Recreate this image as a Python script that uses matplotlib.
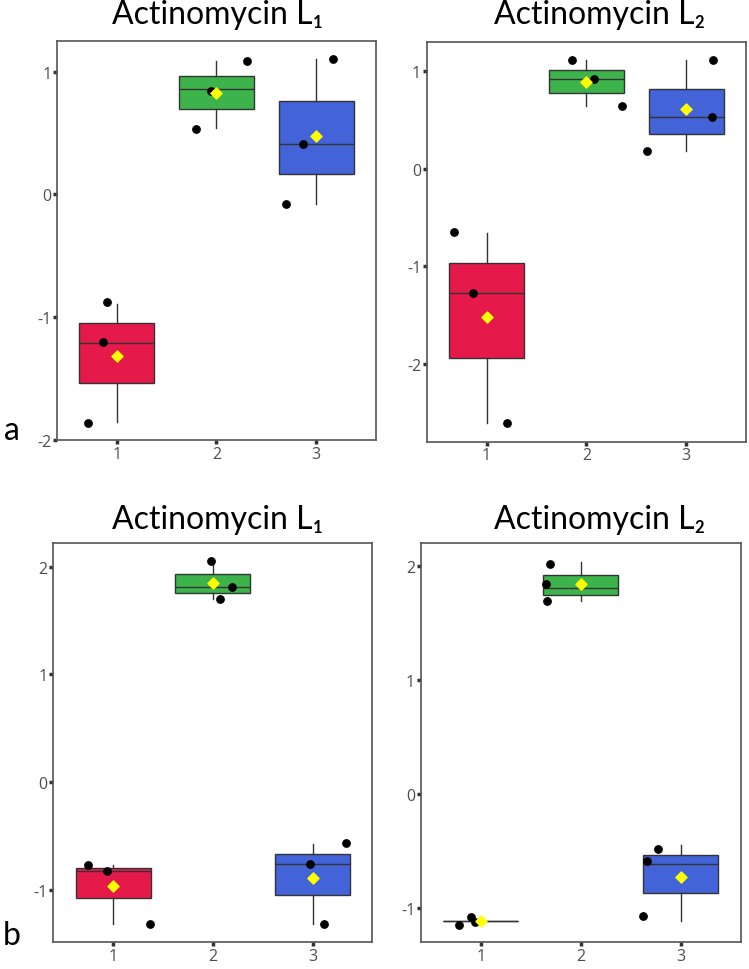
import numpy as np
import matplotlib.pyplot as plt

# colours of the three groups
box_colors = ['#E6194B', '#3CB44B', '#4363D8']
positions = [1, 2, 3]

# panel data: box stats per group (whisker low, q1, median, q3, whisker high), mean, points
titles = ['Actinomycin L\u2081', 'Actinomycin L\u2082', 'Actinomycin L\u2081', 'Actinomycin L\u2082']

a1_stats = [[-1.855, -1.535, -1.21, -1.044, -0.89],
            [0.54, 0.695, 0.855, 0.967, 1.084],
            [-0.077, 0.166, 0.411, 0.76, 1.106]]
a1_means = [-1.32, 0.823, 0.479]
a1_px = [0.71, 0.86, 0.90, 1.79, 1.94, 2.31, 2.70, 2.87, 3.17]
a1_py = [-1.86, -1.205, -0.88, 0.53, 0.845, 1.085, -0.077, 0.409, 1.106]

a2_stats = [[-2.61, -1.944, -1.274, -0.966, -0.662],
            [0.647, 0.78, 0.918, 1.013, 1.113],
            [0.186, 0.357, 0.531, 0.822, 1.113]]
a2_means = [-1.517, 0.893, 0.61]
a2_px = [0.677, 0.867, 1.207, 1.857, 2.08, 2.357, 2.603, 3.26, 3.273]
a2_py = [-0.651, -1.274, -2.61, 1.116, 0.918, 0.647, 0.186, 0.531, 1.116]

b1_stats = [[-1.321, -1.077, -0.829, -0.795, -0.771],
            [1.703, 1.755, 1.811, 1.929, 2.052],
            [-1.321, -1.046, -0.764, -0.668, -0.572]]
b1_means = [-0.971, 1.851, -0.888]
b1_px = [0.75, 0.943, 1.367, 1.98, 2.074, 2.194, 2.97, 3.112, 3.333]
b1_py = [-0.767, -0.832, -1.324, 2.052, 1.70, 1.811, -0.764, -1.324, -0.569]

b2_stats = [[-1.117, -1.117, -1.117, -1.117, -1.117],
            [1.693, 1.746, 1.81, 1.921, 2.038],
            [-1.114, -0.869, -0.617, -0.53, -0.448]]
b2_means = [-1.117, 1.846, -0.728]
b2_px = [0.78, 0.904, 0.947, 1.657, 1.667, 1.697, 2.62, 2.664, 2.77]
b2_py = [-1.146, -1.079, -1.125, 1.842, 1.697, 2.021, -1.073, -0.588, -0.480]

panels = [
    (a1_stats, a1_means, a1_px, a1_py, (-2.0, 1.25), [-2, -1, 0, 1]),
    (a2_stats, a2_means, a2_px, a2_py, (-2.8, 1.3), [-2, -1, 0, 1]),
    (b1_stats, b1_means, b1_px, b1_py, (-1.49, 2.22), [-1, 0, 1, 2]),
    (b2_stats, b2_means, b2_px, b2_py, (-1.30, 2.20), [-1, 0, 1, 2]),
]

# axes rectangles in figure fractions
rects = [[0.0761, 0.5454, 0.4259, 0.4113],
         [0.5697, 0.5436, 0.4263, 0.4118],
         [0.0712, 0.0275, 0.4259, 0.4117],
         [0.5617, 0.0275, 0.4272, 0.4114]]
title_pos = [(0.291, 0.975), (0.801, 0.975), (0.291, 0.455), (0.801, 0.455)]

plt.rcParams['font.family'] = ['Lato', 'DejaVu Sans']
plt.rcParams['axes.unicode_minus'] = False

fig = plt.figure(figsize=(7.49, 9.70), dpi=100)

for i, (stats, means, px, py, ylim, yt) in enumerate(panels):
    ax = fig.add_axes(rects[i])
    bstats = []
    for s, m in zip(stats, means):
        bstats.append({'whislo': s[0], 'q1': s[1], 'med': s[2], 'q3': s[3],
                       'whishi': s[4], 'mean': m, 'fliers': []})
    bp = ax.bxp(bstats, positions=positions, widths=0.75, patch_artist=True,
                showcaps=False, showfliers=False, showmeans=False,
                boxprops=dict(edgecolor='#333333', linewidth=1.0),
                medianprops=dict(color='#333333', linewidth=1.0),
                whiskerprops=dict(color='#333333', linewidth=1.0))
    for patch, c in zip(bp['boxes'], box_colors):
        patch.set_facecolor(c)
    ax.scatter(px, py, s=28, color='black', zorder=4)
    ax.scatter(positions, means, marker='D', s=32, color='#FFFF00', zorder=5)
    ax.set_xlim(0.4, 3.6)
    ax.set_ylim(*ylim)
    ax.set_yticks(yt)
    ax.set_xticks(positions)
    ax.set_xticklabels(['1', '2', '3'])
    ax.tick_params(direction='out', length=3, width=2.5, color='#333333',
                   labelcolor='#4D4D4D', labelsize=11.5, pad=1)
    for lab in ax.get_xticklabels() + ax.get_yticklabels():
        lab.set_family(['Open Sans', 'DejaVu Sans'])
    for sp in ax.spines.values():
        sp.set_color('#555555')
        sp.set_linewidth(1.2)
    fig.text(title_pos[i][0], title_pos[i][1], titles[i], ha='center',
             va='baseline', fontsize=23, color='black')

fig.text(0.005, 0.546, 'a', fontsize=23, va='baseline')
fig.text(0.004, 0.026, 'b', fontsize=23, va='baseline')

fig.savefig('out.png', dpi=100)
